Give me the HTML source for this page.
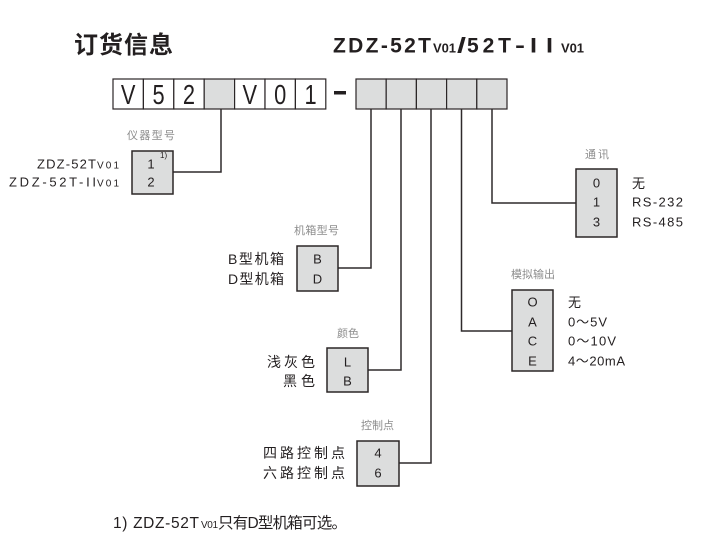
<!DOCTYPE html>
<html>
<head>
<meta charset="utf-8">
<style>
  html,body{margin:0;padding:0;background:#fff;}
  body{width:721px;height:542px;overflow:hidden;}
  svg{display:block;}
  .cn{font-family:"Liberation Sans","Noto Sans CJK SC",sans-serif;}
  .nar{font-family:"Liberation Sans Narrow","Liberation Sans",sans-serif;}
  .mono{font-family:"Liberation Sans Narrow","Liberation Sans","Noto Sans CJK SC",sans-serif;}
  .gray{fill:#8c8c8c;font-size:11px;}
  .lbl{fill:#231f20;font-size:14px;}
  .val{fill:#231f20;font-size:13px;}
</style>
</head>
<body>
<svg width="721" height="542" viewBox="0 0 721 542" xmlns="http://www.w3.org/2000/svg">
  <!-- Titles -->
  <text x="74" y="53" class="cn" font-size="24" font-weight="bold" fill="#231f20" textLength="99" lengthAdjust="spacing">订货信息</text>

  <g font-family="Liberation Sans, sans-serif" font-weight="bold" fill="#231f20">
    <text x="333" y="52.7" font-size="21" textLength="98" lengthAdjust="spacing">ZDZ-52T</text>
    <text x="433" y="52.7" font-size="13" textLength="23" lengthAdjust="spacing">V01</text>
    <text x="457" y="52.7" font-size="21" textLength="9" lengthAdjust="spacingAndGlyphs">/</text>
    <text x="467" y="52.7" font-size="21" textLength="44" lengthAdjust="spacing">52T</text>
    <text x="515" y="52.7" font-size="21" textLength="10" lengthAdjust="spacingAndGlyphs">-</text>
    <text x="530" y="52.7" font-size="21" textLength="7" lengthAdjust="spacingAndGlyphs">I</text>
    <text x="546" y="52.7" font-size="21" textLength="7" lengthAdjust="spacingAndGlyphs">I</text>
    <text x="561" y="52.7" font-size="13" textLength="23" lengthAdjust="spacing">V01</text>
  </g>

  <!-- Top-left code boxes -->
  <g stroke="#2b2627" stroke-width="1.2" fill="#fff">
    <rect x="113" y="79" width="30.4" height="30"/>
    <rect x="143.4" y="79" width="30.4" height="30"/>
    <rect x="173.8" y="79" width="30.4" height="30"/>
    <rect x="204.2" y="79" width="30.4" height="30" fill="#dcdddd"/>
    <rect x="234.6" y="79" width="30.4" height="30"/>
    <rect x="265" y="79" width="30.4" height="30"/>
    <rect x="295.4" y="79" width="30.4" height="30"/>
  </g>
  <g class="nar" font-size="28" fill="#231f20" text-anchor="middle">
    <text transform="translate(128.2,104) scale(0.78,1)">V</text>
    <text transform="translate(158.6,104) scale(0.78,1)">5</text>
    <text transform="translate(189,104) scale(0.78,1)">2</text>
    <text transform="translate(249.8,104) scale(0.78,1)">V</text>
    <text transform="translate(280.2,104) scale(0.78,1)">0</text>
    <text transform="translate(310.6,104) scale(0.78,1)">1</text>
  </g>
  <!-- dash -->
  <rect x="334" y="91" width="12" height="3.5" fill="#231f20"/>

  <!-- Right code boxes -->
  <g stroke="#2b2627" stroke-width="1.2" fill="#dcdddd">
    <rect x="356" y="79" width="30.2" height="30"/>
    <rect x="386.2" y="79" width="30.2" height="30"/>
    <rect x="416.4" y="79" width="30.2" height="30"/>
    <rect x="446.6" y="79" width="30.2" height="30"/>
    <rect x="476.8" y="79" width="30.2" height="30"/>
  </g>

  <!-- Connectors -->
  <g stroke="#2f2a2b" stroke-width="1.5" fill="none">
    <path d="M221,109 V172 H173"/>
    <path d="M371,109 V268 H338"/>
    <path d="M401,109 V370 H368"/>
    <path d="M431,109 V463 H399"/>
    <path d="M461.5,109 V331 H512"/>
    <path d="M492,109 V203 H576"/>
  </g>

  <!-- Option boxes -->
  <g stroke="#2b2627" stroke-width="1.5" fill="#dcdddd">
    <rect x="132" y="151" width="41" height="43"/>
    <rect x="297" y="246" width="41" height="45"/>
    <rect x="327" y="348" width="41" height="44"/>
    <rect x="357" y="441" width="42" height="45"/>
    <rect x="576" y="169" width="41" height="68"/>
    <rect x="512" y="290" width="41" height="81"/>
  </g>

  <!-- Gray captions -->
  <g class="cn gray">
    <text x="127" y="139" textLength="48" lengthAdjust="spacing">仪器型号</text>
    <text x="294" y="234" textLength="45" lengthAdjust="spacing">机箱型号</text>
    <text x="337" y="337" textLength="22" lengthAdjust="spacing">颜色</text>
    <text x="361" y="429" textLength="33" lengthAdjust="spacing">控制点</text>
    <text x="585" y="158" textLength="24" lengthAdjust="spacing">通讯</text>
    <text x="511" y="278" textLength="44" lengthAdjust="spacing">模拟输出</text>
  </g>

  <!-- Box values -->
  <g class="nar val" text-anchor="middle">
    <text x="151" y="168.5">1</text>
    <text x="151" y="186.5">2</text>
    <text x="317.5" y="263.5">B</text>
    <text x="317.5" y="283.5">D</text>
    <text x="347.5" y="366.5">L</text>
    <text x="347.5" y="385.5">B</text>
    <text x="378" y="457.5">4</text>
    <text x="378" y="477.5">6</text>
    <text x="596.5" y="187.5">0</text>
    <text x="596.5" y="206.5">1</text>
    <text x="596.5" y="226.5">3</text>
    <text x="532.5" y="306.5">O</text>
    <text x="532.5" y="326.5">A</text>
    <text x="532.5" y="345.5">C</text>
    <text x="532.5" y="365.5">E</text>
  </g>
  <text x="160" y="158" class="nar" font-size="8" fill="#231f20">1)</text>

  <!-- Left labels: instrument -->
  <g class="nar" fill="#231f20">
    <text x="37" y="168.5" font-size="13" textLength="59" lengthAdjust="spacing">ZDZ-52T</text>
    <text x="97" y="168.5" font-size="10" textLength="22" lengthAdjust="spacing">V01</text>
    <text x="9" y="186.5" font-size="13" textLength="87" lengthAdjust="spacing">ZDZ-52T-II</text>
    <text x="97" y="186.5" font-size="10" textLength="22" lengthAdjust="spacing">V01</text>
  </g>

  <!-- Left labels: CJK -->
  <g class="cn lbl">
    <text x="228" y="264" textLength="56" lengthAdjust="spacing">B型机箱</text>
    <text x="228" y="284" textLength="56" lengthAdjust="spacing">D型机箱</text>
    <text x="267" y="367" textLength="48" lengthAdjust="spacing">浅灰色</text>
    <text x="283" y="386" textLength="32" lengthAdjust="spacing">黑色</text>
    <text x="263" y="458" textLength="82" lengthAdjust="spacing">四路控制点</text>
    <text x="263" y="478" textLength="82" lengthAdjust="spacing">六路控制点</text>
  </g>

  <!-- Right labels -->
  <g class="mono" fill="#231f20" font-size="13">
    <text x="632" y="188" class="cn" font-size="13">无</text>
    <text x="632" y="206.5" textLength="51" lengthAdjust="spacing">RS-232</text>
    <text x="632" y="226.5" textLength="51" lengthAdjust="spacing">RS-485</text>
    <text x="568" y="307" class="cn" font-size="13">无</text>
    <text x="568" y="326.5" textLength="39" lengthAdjust="spacing">0～5V</text>
    <text x="568" y="345.5" textLength="48" lengthAdjust="spacing">0～10V</text>
    <text x="568" y="365.5" textLength="57" lengthAdjust="spacing">4～20mA</text>
  </g>

  <!-- Footnote -->
  <g class="cn" fill="#231f20">
    <text x="113" y="528" font-size="15.5" textLength="86" lengthAdjust="spacing">1) ZDZ-52T</text>
    <text x="201" y="528" font-size="10" textLength="17" lengthAdjust="spacing">V01</text>
    <text x="218" y="528" font-size="15.5" textLength="129" lengthAdjust="spacing">只有D型机箱可选。</text>
  </g>
</svg>
</body>
</html>
